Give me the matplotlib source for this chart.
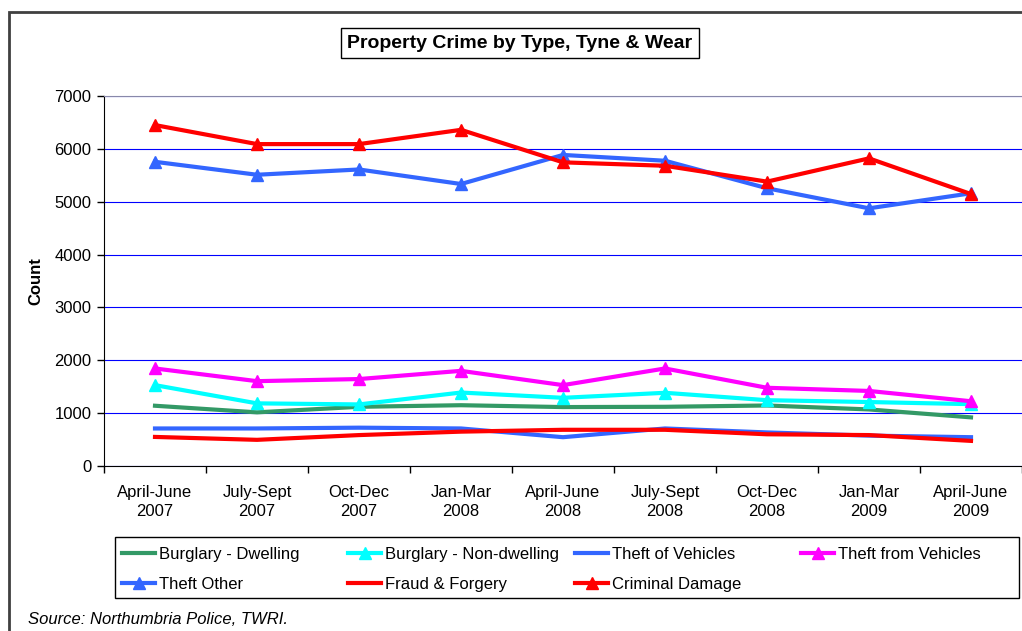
import matplotlib.pyplot as plt
from matplotlib.patches import Rectangle
from matplotlib.lines import Line2D

plt.rcParams['font.family'] = ['Liberation Sans', 'DejaVu Sans']

quarters = ['April-June\n2007', 'July-Sept\n2007', 'Oct-Dec\n2007', 'Jan-Mar\n2008',
            'April-June\n2008', 'July-Sept\n2008', 'Oct-Dec\n2008', 'Jan-Mar\n2009',
            'April-June\n2009']

burglary_dwelling = [1140, 1015, 1120, 1150, 1115, 1120, 1145, 1070, 920]
burglary_non_dwelling = [1530, 1185, 1165, 1390, 1290, 1385, 1245, 1210, 1170]
theft_of_vehicles = [710, 710, 725, 710, 545, 710, 635, 575, 545]
theft_from_vehicles = [1845, 1605, 1645, 1800, 1530, 1845, 1480, 1420, 1225]
theft_other = [5755, 5510, 5610, 5335, 5885, 5775, 5255, 4875, 5160]
fraud_forgery = [550, 495, 585, 650, 685, 685, 600, 585, 475]
criminal_damage = [6450, 6090, 6090, 6360, 5745, 5680, 5380, 5820, 5145]

# name, values, colour, marker
series = [
    ('Burglary - Dwelling', burglary_dwelling, '#339966', None),
    ('Burglary - Non-dwelling', burglary_non_dwelling, '#00FFFF', '^'),
    ('Theft of Vehicles', theft_of_vehicles, '#3366FF', None),
    ('Theft from Vehicles', theft_from_vehicles, '#FF00FF', '^'),
    ('Theft Other', theft_other, '#3366FF', '^'),
    ('Fraud & Forgery', fraud_forgery, '#FF0000', None),
    ('Criminal Damage', criminal_damage, '#FF0000', '^'),
]

W, H = 1022, 631
fig = plt.figure(figsize=(W / 100, H / 100), dpi=100)
ax = fig.add_axes([104 / W, 1 - 466 / H, 918 / W, 370 / H])

x = list(range(len(quarters)))
handles = []
for name, vals, col, mk in series:
    ax.plot(x, vals, color=col, lw=3, marker=mk, markersize=8, clip_on=False)
    handles.append(Line2D([], [], color=col, lw=3, marker=mk, markersize=8))

ax.set_xlim(-0.5, len(quarters) - 0.5)
ax.set_ylim(0, 7000)
ax.set_yticks(range(0, 7001, 1000))
ax.tick_params(axis='y', labelsize=12, length=5, width=1, pad=4, direction='out')
ax.set_xticks(x)
ax.set_xticklabels(quarters, fontsize=12, linespacing=1.33)
ax.tick_params(axis='x', which='major', length=0, pad=13.5)
ax.set_xticks([i - 0.5 for i in range(len(quarters) + 1)], minor=True)
ax.tick_params(axis='x', which='minor', length=5, width=1, direction='out')
ax.yaxis.grid(True, color='#0000FF', lw=0.8)
ax.set_axisbelow(True)
ax.spines['right'].set_visible(False)
ax.spines['top'].set_color('#8888AA')
ax.spines['left'].set_color('black')
ax.spines['bottom'].set_color('black')

# title box
fig.text(520 / W, 1 - 43 / H, 'Property Crime by Type, Tyne & Wear', fontsize=14,
         fontweight='bold', ha='center', va='center',
         bbox=dict(boxstyle='square,pad=0.35', fc='white', ec='black', lw=1))

fig.text(36 / W, 1 - 281 / H, 'Count', rotation=90, fontsize=12, fontweight='bold',
         ha='center', va='center')

fig.text(28 / W, 1 - 619 / H, 'Source: Northumbria Police, TWRI.', fontsize=12,
         style='italic', ha='left', va='center')

# outer chart border
fig.patches.append(Rectangle((9 / W, -0.1), 1.2, 1 - 12 / H + 0.1, transform=fig.transFigure,
                             fill=False, ec='#404040', lw=2))

# legend box and columns
fig.patches.append(Rectangle((115 / W, 1 - 598 / H), (1019 - 115) / W, (598 - 537) / H,
                             transform=fig.transFigure, fill=False, ec='black', lw=1))
columns = [([0, 4], 122), ([1, 5], 348), ([2, 6], 575), ([3], 801)]
for idx, xpos in columns:
    leg = fig.legend([handles[i] for i in idx], [series[i][0] for i in idx],
                     loc='upper left', bbox_to_anchor=(xpos / W, 1 - 547 / H),
                     frameon=False, fontsize=12, handlelength=2.0, handletextpad=0.2,
                     labelspacing=0.9, borderpad=0, borderaxespad=0, numpoints=1)

fig.savefig('out.png', dpi=100)
